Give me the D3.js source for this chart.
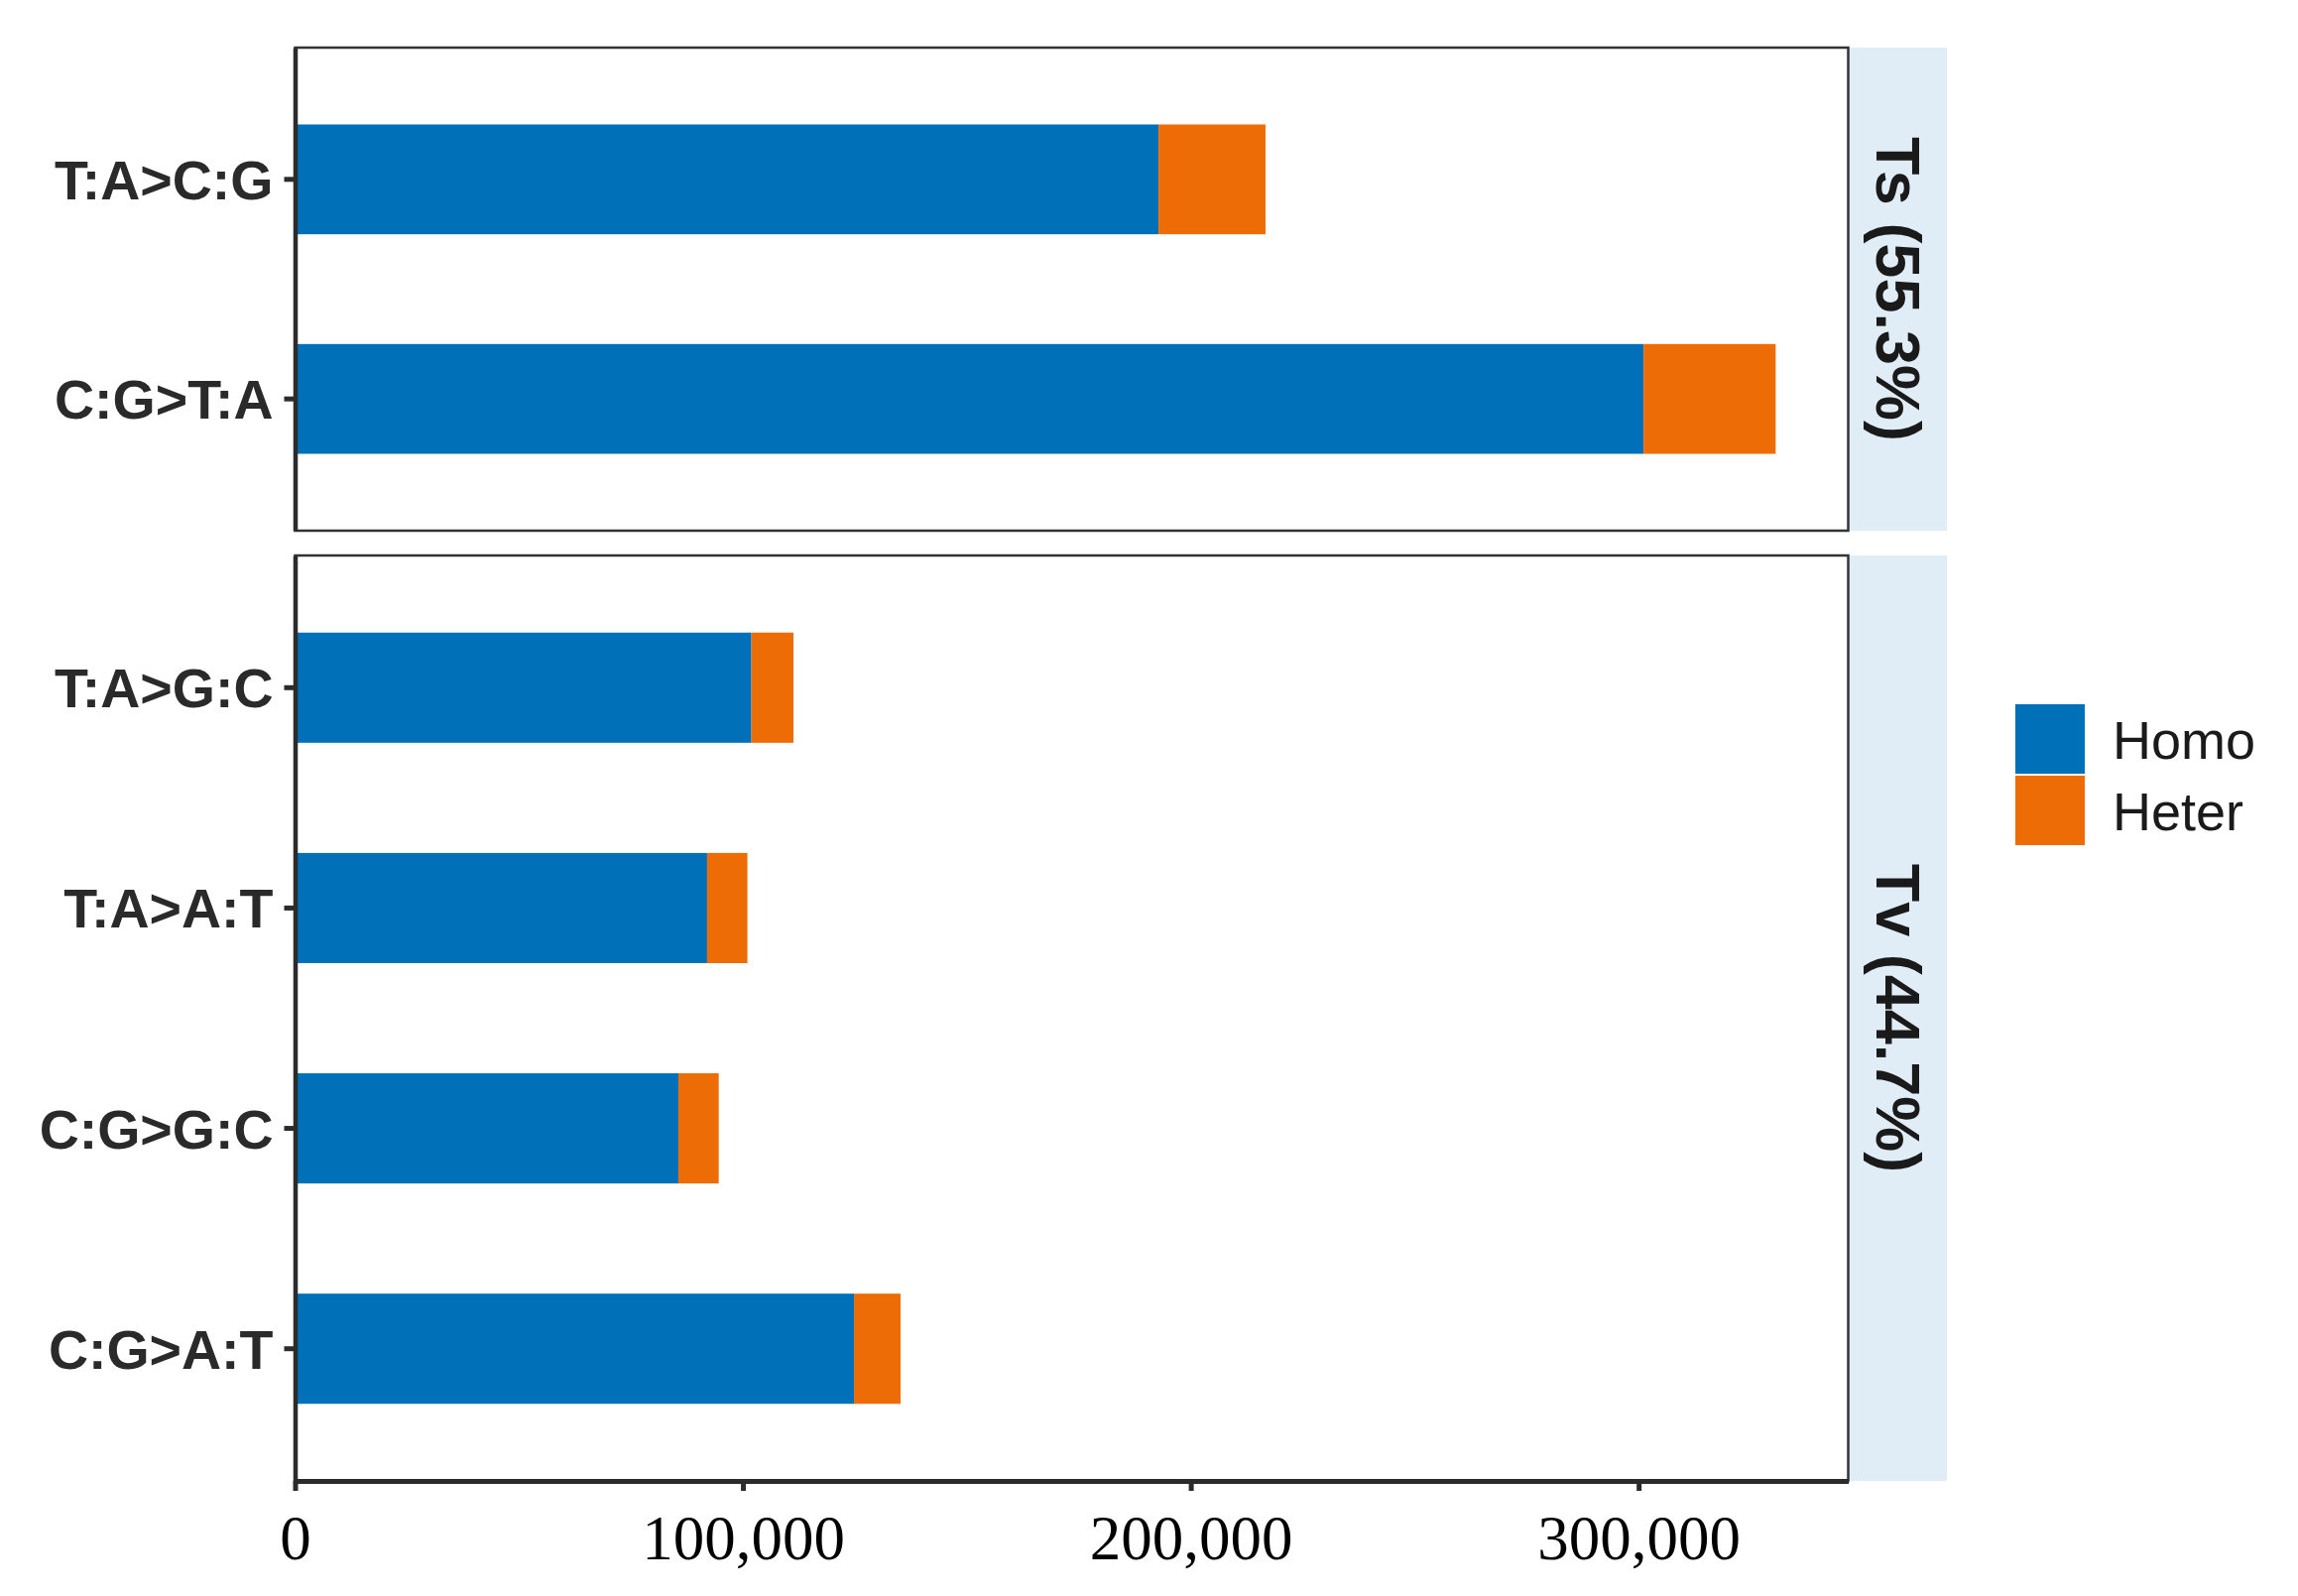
<!DOCTYPE html>
<html>
<head>
<meta charset="utf-8">
<script src="https://cdn.jsdelivr.net/npm/d3@7"></script>
<style>
  html, body { margin: 0; padding: 0; background: #ffffff; }
  svg { display: block; }
</style>
</head>
<body>
<svg id="chart" width="2317" height="1609"></svg>
<script>
// ---- data ----
const panelLabels = ["Ts (55.3%)", "Tv (44.7%)"];
const categoriesTs = ["T:A>C:G", "C:G>T:A"];
const categoriesTv = ["T:A>G:C", "T:A>A:T", "C:G>G:C", "C:G>A:T"];
const homoTs = [192800, 301100];
const heterTs = [23900, 29500];
const homoTv = [101900, 92000, 85600, 124800];
const heterTv = [9400, 9000, 9000, 10400];
const seriesNames = ["Homo", "Heter"];
const xTickValues = [0, 100000, 200000, 300000];

// ---- styles ----
const colors = { Homo: "#0070B9", Heter: "#EE6C06" };
const stripFill = "#E1EDF6";
const sansFont = "'Liberation Sans', Arial, 'DejaVu Sans', sans-serif";
const serifFont = "'Liberation Serif', 'Times New Roman', serif";

const svg = d3.select("#chart");

const plotLeft = 297.5, plotRight = 1863.5;
const stripRight = 1963;
const x = d3.scaleLinear().domain([0, 346800]).range([plotLeft, plotRight]);

const panels = [
  { label: panelLabels[0], cats: categoriesTs, homo: homoTs, heter: heterTs, top: 48, bottom: 535 },
  { label: panelLabels[1], cats: categoriesTv, homo: homoTv, heter: heterTv, top: 560, bottom: 1493 }
];

panels.forEach((p, pi) => {
  const y = d3.scaleBand().domain(p.cats).range([p.top, p.bottom])
    .paddingInner(0.5).paddingOuter(0.35);

  const g = svg.append("g");

  // strip
  g.append("rect")
    .attr("x", plotRight).attr("y", p.top)
    .attr("width", stripRight - plotRight).attr("height", p.bottom - p.top)
    .attr("fill", stripFill);
  g.append("text")
    .attr("transform", `translate(${(plotRight + stripRight) / 2 + 1},${(p.top + p.bottom) / 2}) rotate(90)`)
    .attr("text-anchor", "middle")
    .attr("dy", "0.36em")
    .attr("font-family", sansFont)
    .attr("font-weight", "bold")
    .attr("font-size", 63)
    .attr("fill", "#1a1a1a")
    .text(p.label);

  // stacked data
  const rows = p.cats.map((c, i) => ({ cat: c, Homo: p.homo[i], Heter: p.heter[i] }));
  const stacked = d3.stack().keys(seriesNames)(rows);

  stacked.forEach(layer => {
    g.append("g").selectAll("rect")
      .data(layer)
      .join("rect")
      .attr("x", d => x(d[0]))
      .attr("width", d => x(d[1]) - x(d[0]))
      .attr("y", d => y(d.data.cat))
      .attr("height", y.bandwidth())
      .attr("fill", colors[layer.key]);
  });

  // panel border
  g.append("rect")
    .attr("x", plotLeft).attr("y", p.top)
    .attr("width", plotRight - plotLeft).attr("height", p.bottom - p.top)
    .attr("fill", "none")
    .attr("stroke", "#333333")
    .attr("stroke-width", 2.5);

  // y axis
  const yAxis = d3.axisLeft(y).tickSizeInner(11).tickSizeOuter(0).tickPadding(11);
  const ya = g.append("g")
    .attr("transform", `translate(${plotLeft},0)`)
    .call(yAxis);
  ya.select(".domain").attr("stroke", "#2b2b2b").attr("stroke-width", 4.5);
  ya.selectAll(".tick line").attr("stroke", "#2b2b2b").attr("stroke-width", 5);
  ya.selectAll(".tick text")
    .attr("font-family", sansFont)
    .attr("font-weight", "bold")
    .attr("font-size", 55.5)
    .attr("fill", "#2a2a2a")
    .attr("dy", "0.36em");

  // x axis on bottom panel
  if (pi === panels.length - 1) {
    const xAxis = d3.axisBottom(x).tickValues(xTickValues).tickSizeInner(10).tickSizeOuter(0).tickPadding(24)
      .tickFormat(d3.format(","));
    const xa = g.append("g")
      .attr("transform", `translate(0,${p.bottom})`)
      .call(xAxis);
    xa.select(".domain").attr("stroke", "#2b2b2b").attr("stroke-width", 5);
    xa.selectAll(".tick line").attr("stroke", "#2b2b2b").attr("stroke-width", 5);
    xa.selectAll(".tick text")
      .attr("font-family", serifFont)
      .attr("font-size", 63)
      .attr("fill", "#000000");
  }
});

// legend
const legend = svg.append("g");
const keyX = 2032, keyY = 710, keySize = 71;
seriesNames.forEach((name, i) => {
  legend.append("rect")
    .attr("x", keyX).attr("y", keyY + i * (keySize + 1))
    .attr("width", keySize - 1).attr("height", keySize - 1)
    .attr("fill", colors[name]);
  legend.append("text")
    .attr("x", 2130)
    .attr("y", keyY + i * (keySize + 1) + keySize / 2)
    .attr("dy", "0.36em")
    .attr("font-family", sansFont)
    .attr("font-size", 54)
    .attr("fill", "#1a1a1a")
    .text(name);
});
</script>
</body>
</html>
